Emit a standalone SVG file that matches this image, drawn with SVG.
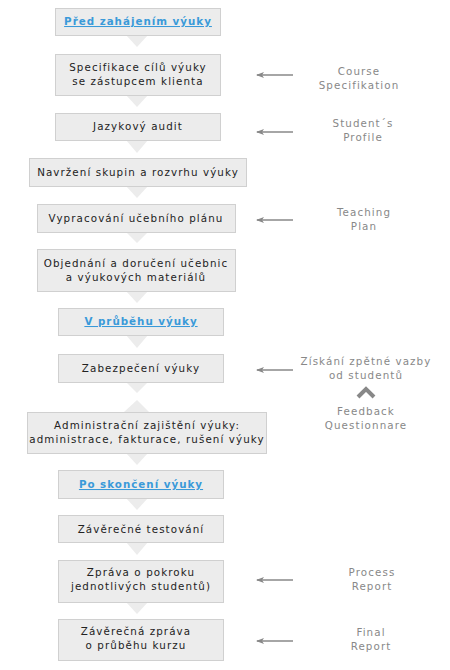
<svg xmlns="http://www.w3.org/2000/svg" width="450" height="670" viewBox="0 0 450 670">
<defs>
<style>
.box{fill:#ececec;stroke:#d0d0d0;stroke-width:1}
.tri{fill:#ececec}
.t{font-family:"DejaVu Sans",Verdana,sans-serif;font-size:10.3px;letter-spacing:1.1px;fill:#222;text-anchor:middle}
.h{font-family:"DejaVu Sans",Verdana,sans-serif;font-size:10.3px;letter-spacing:1px;fill:#3a9ad9;font-weight:bold;text-anchor:middle;text-decoration:underline}
.r{font-family:"DejaVu Sans",Verdana,sans-serif;font-size:10.3px;letter-spacing:1.1px;fill:#888;text-anchor:middle}
.ar{stroke:#888;stroke-width:1.5;fill:none}
</style>
<marker id="ah" markerWidth="9" markerHeight="8" refX="7" refY="4" orient="auto" markerUnits="userSpaceOnUse">
<path d="M0,1 L8,4 L0,7 L2,4 Z" fill="#888"/>
</marker>
</defs>
<rect width="450" height="670" fill="#fff"/>

<g id="connectors">
<polygon class="tri" points="126,35 148,35 137,47"/>
<polygon class="tri" points="126,95 148,95 137,107"/>
<polygon class="tri" points="126,140 148,140 137,153"/>
<polygon class="tri" points="126,186 148,186 137,198"/>
<polygon class="tri" points="126,232 148,232 137,243"/>
<polygon class="tri" points="126,291 148,291 137,303"/>
<polygon class="tri" points="126,335 148,335 137,348"/>
<polygon class="tri" points="126,382 148,382 137,393"/>
<polygon class="tri" points="124,412 149,412 137,400"/>
<polygon class="tri" points="126,453 148,453 137,465"/>
<polygon class="tri" points="126,498 148,498 137,510"/>
<polygon class="tri" points="126,542 148,542 137,555"/>
<polygon class="tri" points="126,602 148,602 137,614"/>
<line class="ar" x1="293" y1="75" x2="257" y2="75" marker-end="url(#ah)"/>
<line class="ar" x1="293" y1="132" x2="257" y2="132" marker-end="url(#ah)"/>
<line class="ar" x1="293" y1="220" x2="257" y2="220" marker-end="url(#ah)"/>
<line class="ar" x1="293" y1="370" x2="257" y2="370" marker-end="url(#ah)"/>
<line class="ar" x1="293" y1="580" x2="257" y2="580" marker-end="url(#ah)"/>
<line class="ar" x1="293" y1="641" x2="257" y2="641" marker-end="url(#ah)"/>
<polyline points="358,397 366,389 374,397" fill="none" stroke="#888" stroke-width="4"/>
</g>

<g id="n1"><rect class="box" x="55.5" y="8.5" width="165" height="27"/><text class="h" x="138" y="25">Před zahájením výuky</text></g>
<g id="n2"><rect class="box" x="55.5" y="54.5" width="165" height="41"/><text class="t" x="138" y="71">Specifikace cílů výuky</text><text class="t" x="138" y="85">se zástupcem klienta</text></g>
<g id="n3"><rect class="box" x="55.5" y="113.5" width="165" height="27"/><text class="t" x="138" y="130">Jazykový audit</text></g>
<g id="n4"><rect class="box" x="29.5" y="158.5" width="217" height="28"/><text class="t" x="138" y="176">Navržení skupin a rozvrhu výuky</text></g>
<g id="n5"><rect class="box" x="37.5" y="204.5" width="198" height="28"/><text class="t" x="136" y="222">Vypracování učebního plánu</text></g>
<g id="n6"><rect class="box" x="37.5" y="249.5" width="198" height="42"/><text class="t" x="136" y="267">Objednání a doručení učebnic</text><text class="t" x="136" y="281">a výukových materiálů</text></g>
<g id="n7"><rect class="box" x="58.5" y="308.5" width="165" height="27"/><text class="h" x="141" y="325">V průběhu výuky</text></g>
<g id="n8"><rect class="box" x="58.5" y="354.5" width="165" height="28"/><text class="t" x="141" y="372">Zabezpečení výuky</text></g>
<g id="n9"><rect class="box" x="27.5" y="412.5" width="239" height="41"/><text class="t" x="147" y="429">Administrační zajištění výuky:</text><text class="t" x="147" y="443">administrace, fakturace, rušení výuky</text></g>
<g id="n10"><rect class="box" x="58.5" y="470.5" width="165" height="28"/><text class="h" x="141" y="488">Po skončení výuky</text></g>
<g id="n11"><rect class="box" x="58.5" y="515.5" width="165" height="27"/><text class="t" x="141" y="533">Závěrečné testování</text></g>
<g id="n12"><rect class="box" x="58.5" y="560.5" width="165" height="42"/><text class="t" x="141" y="576">Zpráva o pokroku</text><text class="t" x="141" y="590">jednotlivých studentů)</text></g>
<g id="n13"><rect class="box" x="58.5" y="619.5" width="165" height="41"/><text class="t" x="136" y="635">Závěrečná zpráva</text><text class="t" x="136" y="649">o průběhu kurzu</text></g>

<g id="r1"><text class="r" x="359" y="75">Course</text><text class="r" x="359" y="89">Specifikation</text></g>
<g id="r2"><text class="r" x="363" y="127">Student´s</text><text class="r" x="363" y="141">Profile</text></g>
<g id="r3"><text class="r" x="364" y="216">Teaching</text><text class="r" x="364" y="230">Plan</text></g>
<g id="r4"><text class="r" x="366" y="365">Získání zpětné vazby</text><text class="r" x="366" y="379">od studentů</text></g>
<g id="r5"><text class="r" x="366" y="415">Feedback</text><text class="r" x="366" y="429">Questionnare</text></g>
<g id="r6"><text class="r" x="372" y="576">Process</text><text class="r" x="372" y="590">Report</text></g>
<g id="r7"><text class="r" x="371" y="636">Final</text><text class="r" x="371" y="650">Report</text></g>
</svg>
